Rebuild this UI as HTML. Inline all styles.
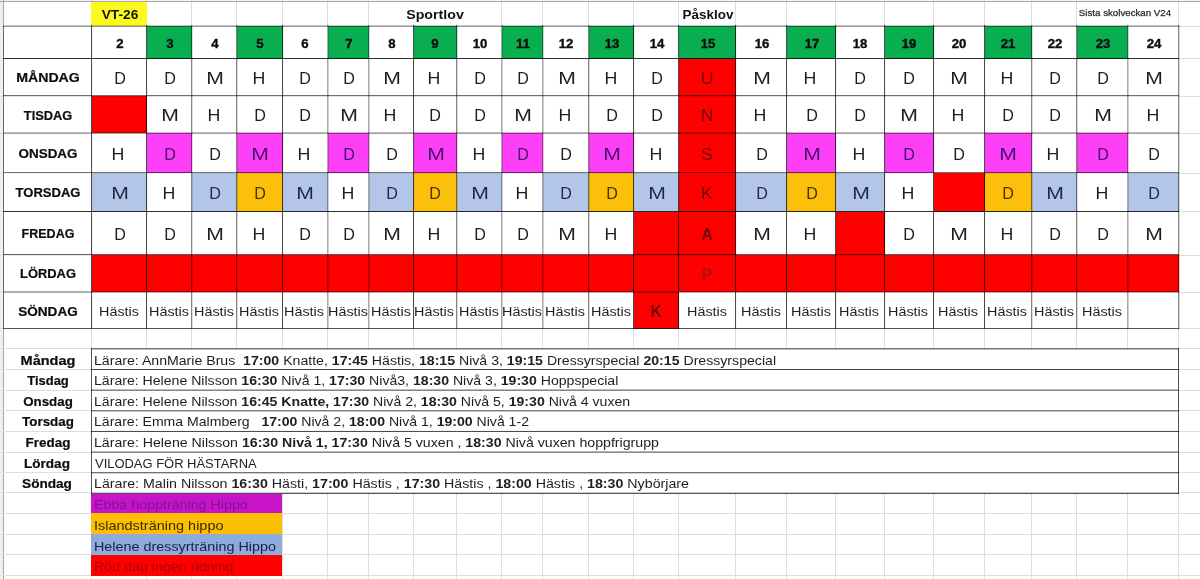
<!DOCTYPE html>
<html lang="sv"><head><meta charset="utf-8"><title>Schema VT-26</title><style>
html,body{margin:0;padding:0;background:#fff}
body{width:1200px;height:579px;overflow:hidden;position:relative;font-family:"Liberation Sans",sans-serif;color:#1c1c1c}
.b{position:absolute}
.x{position:absolute;white-space:pre;line-height:1;display:block}
</style></head><body>
<div class="b" style="left:0px;top:0px;width:1200px;height:1px;background:#f4f4f4;"></div>
<div class="b" style="left:0px;top:0px;width:3px;height:579px;background:#efefef;"></div>
<div class="b" style="left:3px;top:0px;width:1px;height:579px;background:#a8a8a8;"></div>
<div class="b" style="left:91px;top:0px;width:1px;height:579px;background:#dedede;"></div>
<div class="b" style="left:146px;top:0px;width:1px;height:579px;background:#dedede;"></div>
<div class="b" style="left:191px;top:0px;width:1px;height:579px;background:#dedede;"></div>
<div class="b" style="left:236px;top:0px;width:1px;height:579px;background:#dedede;"></div>
<div class="b" style="left:282px;top:0px;width:1px;height:579px;background:#dedede;"></div>
<div class="b" style="left:327px;top:0px;width:1px;height:579px;background:#dedede;"></div>
<div class="b" style="left:368px;top:0px;width:1px;height:579px;background:#dedede;"></div>
<div class="b" style="left:413px;top:0px;width:1px;height:579px;background:#dedede;"></div>
<div class="b" style="left:456px;top:0px;width:1px;height:579px;background:#dedede;"></div>
<div class="b" style="left:501px;top:0px;width:1px;height:579px;background:#dedede;"></div>
<div class="b" style="left:542px;top:0px;width:1px;height:579px;background:#dedede;"></div>
<div class="b" style="left:588px;top:0px;width:1px;height:579px;background:#dedede;"></div>
<div class="b" style="left:633px;top:0px;width:1px;height:579px;background:#dedede;"></div>
<div class="b" style="left:678px;top:0px;width:1px;height:579px;background:#dedede;"></div>
<div class="b" style="left:735px;top:0px;width:1px;height:579px;background:#dedede;"></div>
<div class="b" style="left:786px;top:0px;width:1px;height:579px;background:#dedede;"></div>
<div class="b" style="left:835px;top:0px;width:1px;height:579px;background:#dedede;"></div>
<div class="b" style="left:884px;top:0px;width:1px;height:579px;background:#dedede;"></div>
<div class="b" style="left:933px;top:0px;width:1px;height:579px;background:#dedede;"></div>
<div class="b" style="left:984px;top:0px;width:1px;height:579px;background:#dedede;"></div>
<div class="b" style="left:1031px;top:0px;width:1px;height:579px;background:#dedede;"></div>
<div class="b" style="left:1076px;top:0px;width:1px;height:579px;background:#dedede;"></div>
<div class="b" style="left:1127px;top:0px;width:1px;height:579px;background:#dedede;"></div>
<div class="b" style="left:1178px;top:0px;width:1px;height:579px;background:#dedede;"></div>
<div class="b" style="left:0px;top:1px;width:1200px;height:1px;background:#a8a8a8;"></div>
<div class="b" style="left:0px;top:26px;width:1200px;height:1px;background:#dedede;"></div>
<div class="b" style="left:0px;top:58px;width:1200px;height:1px;background:#dedede;"></div>
<div class="b" style="left:0px;top:96px;width:1200px;height:1px;background:#dedede;"></div>
<div class="b" style="left:0px;top:133px;width:1200px;height:1px;background:#dedede;"></div>
<div class="b" style="left:0px;top:173px;width:1200px;height:1px;background:#dedede;"></div>
<div class="b" style="left:0px;top:211px;width:1200px;height:1px;background:#dedede;"></div>
<div class="b" style="left:0px;top:255px;width:1200px;height:1px;background:#dedede;"></div>
<div class="b" style="left:0px;top:292px;width:1200px;height:1px;background:#dedede;"></div>
<div class="b" style="left:0px;top:328px;width:1200px;height:1px;background:#dedede;"></div>
<div class="b" style="left:0px;top:348px;width:1200px;height:1px;background:#dedede;"></div>
<div class="b" style="left:0px;top:369px;width:1200px;height:1px;background:#dedede;"></div>
<div class="b" style="left:0px;top:390px;width:1200px;height:1px;background:#dedede;"></div>
<div class="b" style="left:0px;top:410px;width:1200px;height:1px;background:#dedede;"></div>
<div class="b" style="left:0px;top:431px;width:1200px;height:1px;background:#dedede;"></div>
<div class="b" style="left:0px;top:452px;width:1200px;height:1px;background:#dedede;"></div>
<div class="b" style="left:0px;top:472px;width:1200px;height:1px;background:#dedede;"></div>
<div class="b" style="left:0px;top:492px;width:1200px;height:1px;background:#dedede;"></div>
<div class="b" style="left:0px;top:513px;width:1200px;height:1px;background:#dedede;"></div>
<div class="b" style="left:0px;top:534px;width:1200px;height:1px;background:#dedede;"></div>
<div class="b" style="left:0px;top:554px;width:1200px;height:1px;background:#dedede;"></div>
<div class="b" style="left:0px;top:575px;width:1200px;height:1px;background:#dedede;"></div>
<div class="b" style="left:369px;top:2px;width:132px;height:23px;background:#fff;"></div>
<div class="b" style="left:1077px;top:2px;width:101px;height:23px;background:#fff;"></div>
<div class="b" style="left:91px;top:2px;width:56px;height:24px;background:#fcf91e;"></div>
<div class="b" style="left:4px;top:26px;width:1175px;height:303px;background:#fff;"></div>
<div class="b" style="left:92px;top:255px;width:55px;height:37px;background:#fe0000;"></div>
<div class="b" style="left:147px;top:26px;width:45px;height:33px;background:#08ae50;"></div>
<div class="b" style="left:147px;top:255px;width:45px;height:37px;background:#fe0000;"></div>
<div class="b" style="left:147px;top:133px;width:45px;height:40px;background:#fd3ff7;"></div>
<div class="b" style="left:192px;top:255px;width:45px;height:37px;background:#fe0000;"></div>
<div class="b" style="left:237px;top:26px;width:46px;height:33px;background:#08ae50;"></div>
<div class="b" style="left:237px;top:255px;width:46px;height:37px;background:#fe0000;"></div>
<div class="b" style="left:237px;top:133px;width:46px;height:40px;background:#fd3ff7;"></div>
<div class="b" style="left:283px;top:255px;width:45px;height:37px;background:#fe0000;"></div>
<div class="b" style="left:328px;top:26px;width:41px;height:33px;background:#08ae50;"></div>
<div class="b" style="left:328px;top:255px;width:41px;height:37px;background:#fe0000;"></div>
<div class="b" style="left:328px;top:133px;width:41px;height:40px;background:#fd3ff7;"></div>
<div class="b" style="left:369px;top:255px;width:45px;height:37px;background:#fe0000;"></div>
<div class="b" style="left:414px;top:26px;width:43px;height:33px;background:#08ae50;"></div>
<div class="b" style="left:414px;top:255px;width:43px;height:37px;background:#fe0000;"></div>
<div class="b" style="left:414px;top:133px;width:43px;height:40px;background:#fd3ff7;"></div>
<div class="b" style="left:457px;top:255px;width:45px;height:37px;background:#fe0000;"></div>
<div class="b" style="left:502px;top:26px;width:41px;height:33px;background:#08ae50;"></div>
<div class="b" style="left:502px;top:255px;width:41px;height:37px;background:#fe0000;"></div>
<div class="b" style="left:502px;top:133px;width:41px;height:40px;background:#fd3ff7;"></div>
<div class="b" style="left:543px;top:255px;width:46px;height:37px;background:#fe0000;"></div>
<div class="b" style="left:589px;top:26px;width:45px;height:33px;background:#08ae50;"></div>
<div class="b" style="left:589px;top:255px;width:45px;height:37px;background:#fe0000;"></div>
<div class="b" style="left:589px;top:133px;width:45px;height:40px;background:#fd3ff7;"></div>
<div class="b" style="left:634px;top:255px;width:45px;height:37px;background:#fe0000;"></div>
<div class="b" style="left:679px;top:26px;width:57px;height:33px;background:#08ae50;"></div>
<div class="b" style="left:679px;top:255px;width:57px;height:37px;background:#fe0000;"></div>
<div class="b" style="left:736px;top:255px;width:51px;height:37px;background:#fe0000;"></div>
<div class="b" style="left:787px;top:26px;width:49px;height:33px;background:#08ae50;"></div>
<div class="b" style="left:787px;top:255px;width:49px;height:37px;background:#fe0000;"></div>
<div class="b" style="left:787px;top:133px;width:49px;height:40px;background:#fd3ff7;"></div>
<div class="b" style="left:836px;top:255px;width:49px;height:37px;background:#fe0000;"></div>
<div class="b" style="left:885px;top:26px;width:49px;height:33px;background:#08ae50;"></div>
<div class="b" style="left:885px;top:255px;width:49px;height:37px;background:#fe0000;"></div>
<div class="b" style="left:885px;top:133px;width:49px;height:40px;background:#fd3ff7;"></div>
<div class="b" style="left:934px;top:255px;width:51px;height:37px;background:#fe0000;"></div>
<div class="b" style="left:985px;top:26px;width:47px;height:33px;background:#08ae50;"></div>
<div class="b" style="left:985px;top:255px;width:47px;height:37px;background:#fe0000;"></div>
<div class="b" style="left:985px;top:133px;width:47px;height:40px;background:#fd3ff7;"></div>
<div class="b" style="left:1032px;top:255px;width:45px;height:37px;background:#fe0000;"></div>
<div class="b" style="left:1077px;top:26px;width:51px;height:33px;background:#08ae50;"></div>
<div class="b" style="left:1077px;top:255px;width:51px;height:37px;background:#fe0000;"></div>
<div class="b" style="left:1077px;top:133px;width:51px;height:40px;background:#fd3ff7;"></div>
<div class="b" style="left:1128px;top:255px;width:51px;height:37px;background:#fe0000;"></div>
<div class="b" style="left:92px;top:96px;width:55px;height:37px;background:#fe0000;"></div>
<div class="b" style="left:679px;top:59px;width:57px;height:37px;background:#fe0000;"></div>
<div class="b" style="left:679px;top:96px;width:57px;height:37px;background:#fe0000;"></div>
<div class="b" style="left:679px;top:133px;width:57px;height:40px;background:#fe0000;"></div>
<div class="b" style="left:679px;top:173px;width:57px;height:39px;background:#fe0000;"></div>
<div class="b" style="left:679px;top:212px;width:57px;height:43px;background:#fe0000;"></div>
<div class="b" style="left:934px;top:173px;width:51px;height:39px;background:#fe0000;"></div>
<div class="b" style="left:634px;top:212px;width:45px;height:43px;background:#fe0000;"></div>
<div class="b" style="left:836px;top:212px;width:49px;height:43px;background:#fe0000;"></div>
<div class="b" style="left:634px;top:292px;width:45px;height:37px;background:#fe0000;"></div>
<div class="b" style="left:92px;top:173px;width:55px;height:39px;background:#b4c6e7;"></div>
<div class="b" style="left:192px;top:173px;width:45px;height:39px;background:#b4c6e7;"></div>
<div class="b" style="left:237px;top:173px;width:46px;height:39px;background:#fdc00a;"></div>
<div class="b" style="left:283px;top:173px;width:45px;height:39px;background:#b4c6e7;"></div>
<div class="b" style="left:369px;top:173px;width:45px;height:39px;background:#b4c6e7;"></div>
<div class="b" style="left:414px;top:173px;width:43px;height:39px;background:#fdc00a;"></div>
<div class="b" style="left:457px;top:173px;width:45px;height:39px;background:#b4c6e7;"></div>
<div class="b" style="left:543px;top:173px;width:46px;height:39px;background:#b4c6e7;"></div>
<div class="b" style="left:589px;top:173px;width:45px;height:39px;background:#fdc00a;"></div>
<div class="b" style="left:634px;top:173px;width:45px;height:39px;background:#b4c6e7;"></div>
<div class="b" style="left:736px;top:173px;width:51px;height:39px;background:#b4c6e7;"></div>
<div class="b" style="left:787px;top:173px;width:49px;height:39px;background:#fdc00a;"></div>
<div class="b" style="left:836px;top:173px;width:49px;height:39px;background:#b4c6e7;"></div>
<div class="b" style="left:985px;top:173px;width:47px;height:39px;background:#fdc00a;"></div>
<div class="b" style="left:1032px;top:173px;width:45px;height:39px;background:#b4c6e7;"></div>
<div class="b" style="left:1128px;top:173px;width:51px;height:39px;background:#b4c6e7;"></div>
<div class="b" style="left:3px;top:25px;width:1px;height:304px;background:rgba(0,0,0,0.37);"></div>
<div class="b" style="left:91px;top:25px;width:1px;height:304px;background:rgba(0,0,0,0.7);"></div>
<div class="b" style="left:92px;top:25px;width:1px;height:304px;background:rgba(0,0,0,0.04);"></div>
<div class="b" style="left:146px;top:25px;width:1px;height:304px;background:rgba(0,0,0,0.7);"></div>
<div class="b" style="left:147px;top:25px;width:1px;height:304px;background:rgba(0,0,0,0.04);"></div>
<div class="b" style="left:191px;top:25px;width:1px;height:304px;background:rgba(0,0,0,0.48);"></div>
<div class="b" style="left:192px;top:25px;width:1px;height:304px;background:rgba(0,0,0,0.15);"></div>
<div class="b" style="left:236px;top:25px;width:1px;height:304px;background:rgba(0,0,0,0.48);"></div>
<div class="b" style="left:237px;top:25px;width:1px;height:304px;background:rgba(0,0,0,0.15);"></div>
<div class="b" style="left:282px;top:25px;width:1px;height:304px;background:rgba(0,0,0,0.7);"></div>
<div class="b" style="left:283px;top:25px;width:1px;height:304px;background:rgba(0,0,0,0.04);"></div>
<div class="b" style="left:327px;top:25px;width:1px;height:304px;background:rgba(0,0,0,0.34);"></div>
<div class="b" style="left:328px;top:25px;width:1px;height:304px;background:rgba(0,0,0,0.18);"></div>
<div class="b" style="left:368px;top:25px;width:1px;height:304px;background:rgba(0,0,0,0.34);"></div>
<div class="b" style="left:369px;top:25px;width:1px;height:304px;background:rgba(0,0,0,0.18);"></div>
<div class="b" style="left:413px;top:25px;width:1px;height:304px;background:rgba(0,0,0,0.7);"></div>
<div class="b" style="left:414px;top:25px;width:1px;height:304px;background:rgba(0,0,0,0.04);"></div>
<div class="b" style="left:456px;top:25px;width:1px;height:304px;background:rgba(0,0,0,0.48);"></div>
<div class="b" style="left:457px;top:25px;width:1px;height:304px;background:rgba(0,0,0,0.15);"></div>
<div class="b" style="left:501px;top:25px;width:1px;height:304px;background:rgba(0,0,0,0.34);"></div>
<div class="b" style="left:502px;top:25px;width:1px;height:304px;background:rgba(0,0,0,0.18);"></div>
<div class="b" style="left:542px;top:25px;width:1px;height:304px;background:rgba(0,0,0,0.34);"></div>
<div class="b" style="left:543px;top:25px;width:1px;height:304px;background:rgba(0,0,0,0.18);"></div>
<div class="b" style="left:588px;top:25px;width:1px;height:304px;background:rgba(0,0,0,0.48);"></div>
<div class="b" style="left:589px;top:25px;width:1px;height:304px;background:rgba(0,0,0,0.15);"></div>
<div class="b" style="left:633px;top:25px;width:1px;height:304px;background:rgba(0,0,0,0.7);"></div>
<div class="b" style="left:634px;top:25px;width:1px;height:304px;background:rgba(0,0,0,0.04);"></div>
<div class="b" style="left:678px;top:25px;width:1px;height:304px;background:rgba(0,0,0,0.7);"></div>
<div class="b" style="left:679px;top:25px;width:1px;height:304px;background:rgba(0,0,0,0.04);"></div>
<div class="b" style="left:735px;top:25px;width:1px;height:304px;background:rgba(0,0,0,0.7);"></div>
<div class="b" style="left:736px;top:25px;width:1px;height:304px;background:rgba(0,0,0,0.04);"></div>
<div class="b" style="left:786px;top:25px;width:1px;height:304px;background:rgba(0,0,0,0.7);"></div>
<div class="b" style="left:787px;top:25px;width:1px;height:304px;background:rgba(0,0,0,0.04);"></div>
<div class="b" style="left:835px;top:25px;width:1px;height:304px;background:rgba(0,0,0,0.7);"></div>
<div class="b" style="left:836px;top:25px;width:1px;height:304px;background:rgba(0,0,0,0.04);"></div>
<div class="b" style="left:884px;top:25px;width:1px;height:304px;background:rgba(0,0,0,0.7);"></div>
<div class="b" style="left:885px;top:25px;width:1px;height:304px;background:rgba(0,0,0,0.04);"></div>
<div class="b" style="left:933px;top:25px;width:1px;height:304px;background:rgba(0,0,0,0.7);"></div>
<div class="b" style="left:934px;top:25px;width:1px;height:304px;background:rgba(0,0,0,0.04);"></div>
<div class="b" style="left:984px;top:25px;width:1px;height:304px;background:rgba(0,0,0,0.7);"></div>
<div class="b" style="left:985px;top:25px;width:1px;height:304px;background:rgba(0,0,0,0.04);"></div>
<div class="b" style="left:1031px;top:25px;width:1px;height:304px;background:rgba(0,0,0,0.48);"></div>
<div class="b" style="left:1032px;top:25px;width:1px;height:304px;background:rgba(0,0,0,0.15);"></div>
<div class="b" style="left:1076px;top:25px;width:1px;height:304px;background:rgba(0,0,0,0.48);"></div>
<div class="b" style="left:1077px;top:25px;width:1px;height:304px;background:rgba(0,0,0,0.15);"></div>
<div class="b" style="left:1127px;top:25px;width:1px;height:304px;background:rgba(0,0,0,0.34);"></div>
<div class="b" style="left:1128px;top:25px;width:1px;height:304px;background:rgba(0,0,0,0.18);"></div>
<div class="b" style="left:1178px;top:25px;width:1px;height:304px;background:rgba(0,0,0,0.48);"></div>
<div class="b" style="left:1179px;top:25px;width:1px;height:304px;background:rgba(0,0,0,0.15);"></div>
<div class="b" style="left:3px;top:25px;width:1176px;height:1px;background:rgba(0,0,0,0.22);"></div>
<div class="b" style="left:3px;top:26px;width:1176px;height:1px;background:rgba(0,0,0,0.4);"></div>
<div class="b" style="left:3px;top:58px;width:1176px;height:1px;background:rgba(0,0,0,0.82);"></div>
<div class="b" style="left:3px;top:95px;width:1176px;height:1px;background:rgba(0,0,0,0.57);"></div>
<div class="b" style="left:3px;top:96px;width:1176px;height:1px;background:rgba(0,0,0,0.12);"></div>
<div class="b" style="left:3px;top:132px;width:1176px;height:1px;background:rgba(0,0,0,0.25);"></div>
<div class="b" style="left:3px;top:133px;width:1176px;height:1px;background:rgba(0,0,0,0.37);"></div>
<div class="b" style="left:3px;top:172px;width:1176px;height:1px;background:rgba(0,0,0,0.55);"></div>
<div class="b" style="left:3px;top:173px;width:1176px;height:1px;background:rgba(0,0,0,0.06);"></div>
<div class="b" style="left:3px;top:211px;width:1176px;height:1px;background:rgba(0,0,0,0.82);"></div>
<div class="b" style="left:3px;top:254px;width:1176px;height:1px;background:rgba(0,0,0,0.63);"></div>
<div class="b" style="left:3px;top:255px;width:1176px;height:1px;background:rgba(0,0,0,0.07);"></div>
<div class="b" style="left:3px;top:291px;width:1176px;height:1px;background:rgba(0,0,0,0.32);"></div>
<div class="b" style="left:3px;top:292px;width:1176px;height:1px;background:rgba(0,0,0,0.32);"></div>
<div class="b" style="left:3px;top:328px;width:1176px;height:1px;background:rgba(0,0,0,0.66);"></div>
<div class="b" style="left:92px;top:349px;width:1086px;height:143px;background:#fff;"></div>
<div class="b" style="left:91px;top:348px;width:1088px;height:1px;background:rgba(0,0,0,0.481);"></div>
<div class="b" style="left:91px;top:349px;width:1088px;height:1px;background:rgba(0,0,0,0.259);"></div>
<div class="b" style="left:91px;top:369px;width:1088px;height:1px;background:rgba(0,0,0,0.74);"></div>
<div class="b" style="left:91px;top:389px;width:1088px;height:1px;background:rgba(0,0,0,0.259);"></div>
<div class="b" style="left:91px;top:390px;width:1088px;height:1px;background:rgba(0,0,0,0.481);"></div>
<div class="b" style="left:91px;top:410px;width:1088px;height:1px;background:rgba(0,0,0,0.518);"></div>
<div class="b" style="left:91px;top:411px;width:1088px;height:1px;background:rgba(0,0,0,0.222);"></div>
<div class="b" style="left:91px;top:430px;width:1088px;height:1px;background:rgba(0,0,0,0.037);"></div>
<div class="b" style="left:91px;top:431px;width:1088px;height:1px;background:rgba(0,0,0,0.703);"></div>
<div class="b" style="left:91px;top:451px;width:1088px;height:1px;background:rgba(0,0,0,0.296);"></div>
<div class="b" style="left:91px;top:452px;width:1088px;height:1px;background:rgba(0,0,0,0.444);"></div>
<div class="b" style="left:91px;top:472px;width:1088px;height:1px;background:rgba(0,0,0,0.555);"></div>
<div class="b" style="left:91px;top:473px;width:1088px;height:1px;background:rgba(0,0,0,0.185);"></div>
<div class="b" style="left:91px;top:492px;width:1088px;height:1px;background:rgba(0,0,0,0.074);"></div>
<div class="b" style="left:91px;top:493px;width:1088px;height:1px;background:rgba(0,0,0,0.666);"></div>
<div class="b" style="left:91px;top:348px;width:1px;height:146px;background:rgba(0,0,0,0.62);"></div>
<div class="b" style="left:1178px;top:348px;width:1px;height:146px;background:rgba(0,0,0,0.62);"></div>
<div class="b" style="left:91px;top:494px;width:191px;height:19px;background:#c814c8;"></div>
<div class="b" style="left:91px;top:513px;width:191px;height:21px;background:#fdc000;"></div>
<div class="b" style="left:91px;top:534px;width:191px;height:21px;background:#8faadc;"></div>
<div class="b" style="left:91px;top:555px;width:191px;height:21px;background:#fe0000;"></div>
<span class="x" id="vt" style="left:119.50px;top:8.00px;font-size:13.5px;font-weight:bold;color:#111;transform:translateX(-50%) scaleX(1.0145);">VT-26</span>
<span class="x" id="sport" style="left:434.82px;top:8.00px;font-size:13.5px;font-weight:bold;color:#111;transform:translateX(-50%) scaleX(1.0528);">Sportlov</span>
<span class="x" id="pask" style="left:707.62px;top:8.00px;font-size:13.5px;font-weight:bold;color:#111;transform:translateX(-50%) scaleX(0.9985);">Påsklov</span>
<span class="x" id="sista" style="left:1124.87px;top:9.00px;font-size:9.0px;color:#2a2a2a;-webkit-text-stroke:0.25px #2a2a2a;transform:translateX(-50%) scaleX(1.0788);">Sista skolveckan V24</span>
<span class="x" id="wk2" style="left:119.60px;top:38.00px;font-size:12.2px;font-weight:bold;color:#0c0c0c;-webkit-text-stroke:0.35px #0c0c0c;transform:translateX(-50%) scaleX(1.0800);">2</span>
<span class="x" id="wk3" style="left:169.72px;top:38.00px;font-size:12.2px;font-weight:bold;color:#0c0c0c;-webkit-text-stroke:0.35px #0c0c0c;transform:translateX(-50%) scaleX(1.0800);">3</span>
<span class="x" id="wk4" style="left:214.97px;top:38.00px;font-size:12.2px;font-weight:bold;color:#0c0c0c;-webkit-text-stroke:0.35px #0c0c0c;transform:translateX(-50%) scaleX(1.0800);">4</span>
<span class="x" id="wk5" style="left:260.10px;top:38.00px;font-size:12.2px;font-weight:bold;color:#0c0c0c;-webkit-text-stroke:0.35px #0c0c0c;transform:translateX(-50%) scaleX(1.0800);">5</span>
<span class="x" id="wk6" style="left:305.35px;top:38.00px;font-size:12.2px;font-weight:bold;color:#0c0c0c;-webkit-text-stroke:0.35px #0c0c0c;transform:translateX(-50%) scaleX(1.0800);">6</span>
<span class="x" id="wk7" style="left:348.73px;top:38.00px;font-size:12.2px;font-weight:bold;color:#0c0c0c;-webkit-text-stroke:0.35px #0c0c0c;transform:translateX(-50%) scaleX(1.0800);">7</span>
<span class="x" id="wk8" style="left:391.60px;top:38.00px;font-size:12.2px;font-weight:bold;color:#0c0c0c;-webkit-text-stroke:0.35px #0c0c0c;transform:translateX(-50%) scaleX(1.0800);">8</span>
<span class="x" id="wk9" style="left:435.48px;top:38.00px;font-size:12.2px;font-weight:bold;color:#0c0c0c;-webkit-text-stroke:0.35px #0c0c0c;transform:translateX(-50%) scaleX(1.0800);">9</span>
<span class="x" id="wk10" style="left:479.73px;top:38.00px;font-size:12.2px;font-weight:bold;color:#0c0c0c;-webkit-text-stroke:0.35px #0c0c0c;transform:translateX(-50%) scaleX(1.0800);">10</span>
<span class="x" id="wk11" style="left:522.98px;top:38.00px;font-size:12.2px;font-weight:bold;color:#0c0c0c;-webkit-text-stroke:0.35px #0c0c0c;transform:translateX(-50%) scaleX(1.0800);">11</span>
<span class="x" id="wk12" style="left:566.48px;top:38.00px;font-size:12.2px;font-weight:bold;color:#0c0c0c;-webkit-text-stroke:0.35px #0c0c0c;transform:translateX(-50%) scaleX(1.0800);">12</span>
<span class="x" id="wk13" style="left:611.85px;top:38.00px;font-size:12.2px;font-weight:bold;color:#0c0c0c;-webkit-text-stroke:0.35px #0c0c0c;transform:translateX(-50%) scaleX(1.0800);">13</span>
<span class="x" id="wk14" style="left:656.73px;top:38.00px;font-size:12.2px;font-weight:bold;color:#0c0c0c;-webkit-text-stroke:0.35px #0c0c0c;transform:translateX(-50%) scaleX(1.0800);">14</span>
<span class="x" id="wk15" style="left:707.60px;top:38.00px;font-size:12.2px;font-weight:bold;color:#0c0c0c;-webkit-text-stroke:0.35px #0c0c0c;transform:translateX(-50%) scaleX(1.0800);">15</span>
<span class="x" id="wk16" style="left:761.60px;top:38.00px;font-size:12.2px;font-weight:bold;color:#0c0c0c;-webkit-text-stroke:0.35px #0c0c0c;transform:translateX(-50%) scaleX(1.0800);">16</span>
<span class="x" id="wk17" style="left:811.60px;top:38.00px;font-size:12.2px;font-weight:bold;color:#0c0c0c;-webkit-text-stroke:0.35px #0c0c0c;transform:translateX(-50%) scaleX(1.0800);">17</span>
<span class="x" id="wk18" style="left:860.48px;top:38.00px;font-size:12.2px;font-weight:bold;color:#0c0c0c;-webkit-text-stroke:0.35px #0c0c0c;transform:translateX(-50%) scaleX(1.0800);">18</span>
<span class="x" id="wk19" style="left:909.35px;top:38.00px;font-size:12.2px;font-weight:bold;color:#0c0c0c;-webkit-text-stroke:0.35px #0c0c0c;transform:translateX(-50%) scaleX(1.0800);">19</span>
<span class="x" id="wk20" style="left:959.35px;top:38.00px;font-size:12.2px;font-weight:bold;color:#0c0c0c;-webkit-text-stroke:0.35px #0c0c0c;transform:translateX(-50%) scaleX(1.0800);">20</span>
<span class="x" id="wk21" style="left:1008.35px;top:38.00px;font-size:12.2px;font-weight:bold;color:#0c0c0c;-webkit-text-stroke:0.35px #0c0c0c;transform:translateX(-50%) scaleX(1.0800);">21</span>
<span class="x" id="wk22" style="left:1054.60px;top:38.00px;font-size:12.2px;font-weight:bold;color:#0c0c0c;-webkit-text-stroke:0.35px #0c0c0c;transform:translateX(-50%) scaleX(1.0800);">22</span>
<span class="x" id="wk23" style="left:1102.82px;top:38.00px;font-size:12.2px;font-weight:bold;color:#0c0c0c;-webkit-text-stroke:0.35px #0c0c0c;transform:translateX(-50%) scaleX(1.0800);">23</span>
<span class="x" id="wk24" style="left:1153.95px;top:38.00px;font-size:12.2px;font-weight:bold;color:#0c0c0c;-webkit-text-stroke:0.35px #0c0c0c;transform:translateX(-50%) scaleX(1.0800);">24</span>
<span class="x" id="day0" style="left:47.50px;top:71.00px;font-size:13.2px;font-weight:bold;color:#0c0c0c;-webkit-text-stroke:0.2px #0c0c0c;transform:translateX(-50%) scaleX(1.0728);">MÅNDAG</span>
<span class="x" id="day1" style="left:48.38px;top:109.00px;font-size:13.2px;font-weight:bold;color:#0c0c0c;-webkit-text-stroke:0.2px #0c0c0c;transform:translateX(-50%) scaleX(0.9697);">TISDAG</span>
<span class="x" id="day2" style="left:48.43px;top:147.00px;font-size:13.2px;font-weight:bold;color:#0c0c0c;-webkit-text-stroke:0.2px #0c0c0c;transform:translateX(-50%) scaleX(1.0184);">ONSDAG</span>
<span class="x" id="day3" style="left:48.44px;top:186.00px;font-size:13.2px;font-weight:bold;color:#0c0c0c;-webkit-text-stroke:0.2px #0c0c0c;transform:translateX(-50%) scaleX(0.9879);">TORSDAG</span>
<span class="x" id="day4" style="left:47.88px;top:227.00px;font-size:13.2px;font-weight:bold;color:#0c0c0c;-webkit-text-stroke:0.2px #0c0c0c;transform:translateX(-50%) scaleX(0.9483);">FREDAG</span>
<span class="x" id="day5" style="left:47.63px;top:267.00px;font-size:13.2px;font-weight:bold;color:#0c0c0c;-webkit-text-stroke:0.2px #0c0c0c;transform:translateX(-50%) scaleX(0.9806);">LÖRDAG</span>
<span class="x" id="day6" style="left:48.43px;top:305.00px;font-size:13.2px;font-weight:bold;color:#0c0c0c;-webkit-text-stroke:0.2px #0c0c0c;transform:translateX(-50%) scaleX(1.0280);">SÖNDAG</span>
<span class="x" id="l1_1" style="left:119.50px;top:71.00px;font-size:16.8px;color:#1e1e1e;transform:translateX(-50%) scaleX(0.9600);">D</span>
<span class="x" id="l1_2" style="left:169.62px;top:71.00px;font-size:16.8px;color:#1e1e1e;transform:translateX(-50%) scaleX(0.9600);">D</span>
<span class="x" id="l1_3" style="left:215.07px;top:71.00px;font-size:16.8px;color:#1e1e1e;transform:translateX(-50%) scaleX(1.2600);">M</span>
<span class="x" id="l1_4" style="left:258.90px;top:71.00px;font-size:16.8px;color:#1e1e1e;transform:translateX(-50%) scaleX(1.0600);">H</span>
<span class="x" id="l1_5" style="left:305.25px;top:71.00px;font-size:16.8px;color:#1e1e1e;transform:translateX(-50%) scaleX(0.9600);">D</span>
<span class="x" id="l1_6" style="left:348.62px;top:71.00px;font-size:16.8px;color:#1e1e1e;transform:translateX(-50%) scaleX(0.9600);">D</span>
<span class="x" id="l1_7" style="left:391.70px;top:71.00px;font-size:16.8px;color:#1e1e1e;transform:translateX(-50%) scaleX(1.2600);">M</span>
<span class="x" id="l1_8" style="left:434.27px;top:71.00px;font-size:16.8px;color:#1e1e1e;transform:translateX(-50%) scaleX(1.0600);">H</span>
<span class="x" id="l1_9" style="left:479.62px;top:71.00px;font-size:16.8px;color:#1e1e1e;transform:translateX(-50%) scaleX(0.9600);">D</span>
<span class="x" id="l1_10" style="left:522.88px;top:71.00px;font-size:16.8px;color:#1e1e1e;transform:translateX(-50%) scaleX(0.9600);">D</span>
<span class="x" id="l1_11" style="left:566.58px;top:71.00px;font-size:16.8px;color:#1e1e1e;transform:translateX(-50%) scaleX(1.2600);">M</span>
<span class="x" id="l1_12" style="left:610.65px;top:71.00px;font-size:16.8px;color:#1e1e1e;transform:translateX(-50%) scaleX(1.0600);">H</span>
<span class="x" id="l1_13" style="left:656.62px;top:71.00px;font-size:16.8px;color:#1e1e1e;transform:translateX(-50%) scaleX(0.9600);">D</span>
<span class="x" id="l1_14" style="left:707.00px;top:71.00px;font-size:16.8px;color:#6a0808;transform:translateX(-50%) scaleX(1.0500);">U</span>
<span class="x" id="l1_15" style="left:761.70px;top:71.00px;font-size:16.8px;color:#1e1e1e;transform:translateX(-50%) scaleX(1.2600);">M</span>
<span class="x" id="l1_16" style="left:810.40px;top:71.00px;font-size:16.8px;color:#1e1e1e;transform:translateX(-50%) scaleX(1.0600);">H</span>
<span class="x" id="l1_17" style="left:860.38px;top:71.00px;font-size:16.8px;color:#1e1e1e;transform:translateX(-50%) scaleX(0.9600);">D</span>
<span class="x" id="l1_18" style="left:909.25px;top:71.00px;font-size:16.8px;color:#1e1e1e;transform:translateX(-50%) scaleX(0.9600);">D</span>
<span class="x" id="l1_19" style="left:959.45px;top:71.00px;font-size:16.8px;color:#1e1e1e;transform:translateX(-50%) scaleX(1.2600);">M</span>
<span class="x" id="l1_20" style="left:1007.15px;top:71.00px;font-size:16.8px;color:#1e1e1e;transform:translateX(-50%) scaleX(1.0600);">H</span>
<span class="x" id="l1_21" style="left:1054.50px;top:71.00px;font-size:16.8px;color:#1e1e1e;transform:translateX(-50%) scaleX(0.9600);">D</span>
<span class="x" id="l1_22" style="left:1102.72px;top:71.00px;font-size:16.8px;color:#1e1e1e;transform:translateX(-50%) scaleX(0.9600);">D</span>
<span class="x" id="l1_23" style="left:1154.05px;top:71.00px;font-size:16.8px;color:#1e1e1e;transform:translateX(-50%) scaleX(1.2600);">M</span>
<span class="x" id="l2_2" style="left:169.82px;top:108.00px;font-size:16.8px;color:#1e1e1e;transform:translateX(-50%) scaleX(1.2600);">M</span>
<span class="x" id="l2_3" style="left:213.78px;top:108.00px;font-size:16.8px;color:#1e1e1e;transform:translateX(-50%) scaleX(1.0600);">H</span>
<span class="x" id="l2_4" style="left:260.00px;top:108.00px;font-size:16.8px;color:#1e1e1e;transform:translateX(-50%) scaleX(0.9600);">D</span>
<span class="x" id="l2_5" style="left:305.25px;top:108.00px;font-size:16.8px;color:#1e1e1e;transform:translateX(-50%) scaleX(0.9600);">D</span>
<span class="x" id="l2_6" style="left:348.82px;top:108.00px;font-size:16.8px;color:#1e1e1e;transform:translateX(-50%) scaleX(1.2600);">M</span>
<span class="x" id="l2_7" style="left:390.40px;top:108.00px;font-size:16.8px;color:#1e1e1e;transform:translateX(-50%) scaleX(1.0600);">H</span>
<span class="x" id="l2_8" style="left:435.38px;top:108.00px;font-size:16.8px;color:#1e1e1e;transform:translateX(-50%) scaleX(0.9600);">D</span>
<span class="x" id="l2_9" style="left:479.62px;top:108.00px;font-size:16.8px;color:#1e1e1e;transform:translateX(-50%) scaleX(0.9600);">D</span>
<span class="x" id="l2_10" style="left:523.08px;top:108.00px;font-size:16.8px;color:#1e1e1e;transform:translateX(-50%) scaleX(1.2600);">M</span>
<span class="x" id="l2_11" style="left:565.27px;top:108.00px;font-size:16.8px;color:#1e1e1e;transform:translateX(-50%) scaleX(1.0600);">H</span>
<span class="x" id="l2_12" style="left:611.75px;top:108.00px;font-size:16.8px;color:#1e1e1e;transform:translateX(-50%) scaleX(0.9600);">D</span>
<span class="x" id="l2_13" style="left:656.62px;top:108.00px;font-size:16.8px;color:#1e1e1e;transform:translateX(-50%) scaleX(0.9600);">D</span>
<span class="x" id="l2_14" style="left:707.00px;top:108.00px;font-size:16.8px;color:#6a0808;transform:translateX(-50%) scaleX(1.0500);">N</span>
<span class="x" id="l2_15" style="left:760.40px;top:108.00px;font-size:16.8px;color:#1e1e1e;transform:translateX(-50%) scaleX(1.0600);">H</span>
<span class="x" id="l2_16" style="left:811.50px;top:108.00px;font-size:16.8px;color:#1e1e1e;transform:translateX(-50%) scaleX(0.9600);">D</span>
<span class="x" id="l2_17" style="left:860.38px;top:108.00px;font-size:16.8px;color:#1e1e1e;transform:translateX(-50%) scaleX(0.9600);">D</span>
<span class="x" id="l2_18" style="left:909.45px;top:108.00px;font-size:16.8px;color:#1e1e1e;transform:translateX(-50%) scaleX(1.2600);">M</span>
<span class="x" id="l2_19" style="left:958.15px;top:108.00px;font-size:16.8px;color:#1e1e1e;transform:translateX(-50%) scaleX(1.0600);">H</span>
<span class="x" id="l2_20" style="left:1008.25px;top:108.00px;font-size:16.8px;color:#1e1e1e;transform:translateX(-50%) scaleX(0.9600);">D</span>
<span class="x" id="l2_21" style="left:1054.50px;top:108.00px;font-size:16.8px;color:#1e1e1e;transform:translateX(-50%) scaleX(0.9600);">D</span>
<span class="x" id="l2_22" style="left:1102.92px;top:108.00px;font-size:16.8px;color:#1e1e1e;transform:translateX(-50%) scaleX(1.2600);">M</span>
<span class="x" id="l2_23" style="left:1152.75px;top:108.00px;font-size:16.8px;color:#1e1e1e;transform:translateX(-50%) scaleX(1.0600);">H</span>
<span class="x" id="l3_1" style="left:118.40px;top:147.00px;font-size:16.8px;color:#1e1e1e;transform:translateX(-50%) scaleX(1.0600);">H</span>
<span class="x" id="l3_2" style="left:169.62px;top:147.00px;font-size:16.8px;color:#45106c;transform:translateX(-50%) scaleX(0.9600);">D</span>
<span class="x" id="l3_3" style="left:214.88px;top:147.00px;font-size:16.8px;color:#1e1e1e;transform:translateX(-50%) scaleX(0.9600);">D</span>
<span class="x" id="l3_4" style="left:260.20px;top:147.00px;font-size:16.8px;color:#45106c;transform:translateX(-50%) scaleX(1.2600);">M</span>
<span class="x" id="l3_5" style="left:304.15px;top:147.00px;font-size:16.8px;color:#1e1e1e;transform:translateX(-50%) scaleX(1.0600);">H</span>
<span class="x" id="l3_6" style="left:348.62px;top:147.00px;font-size:16.8px;color:#45106c;transform:translateX(-50%) scaleX(0.9600);">D</span>
<span class="x" id="l3_7" style="left:391.50px;top:147.00px;font-size:16.8px;color:#1e1e1e;transform:translateX(-50%) scaleX(0.9600);">D</span>
<span class="x" id="l3_8" style="left:435.57px;top:147.00px;font-size:16.8px;color:#45106c;transform:translateX(-50%) scaleX(1.2600);">M</span>
<span class="x" id="l3_9" style="left:478.52px;top:147.00px;font-size:16.8px;color:#1e1e1e;transform:translateX(-50%) scaleX(1.0600);">H</span>
<span class="x" id="l3_10" style="left:522.88px;top:147.00px;font-size:16.8px;color:#45106c;transform:translateX(-50%) scaleX(0.9600);">D</span>
<span class="x" id="l3_11" style="left:566.38px;top:147.00px;font-size:16.8px;color:#1e1e1e;transform:translateX(-50%) scaleX(0.9600);">D</span>
<span class="x" id="l3_12" style="left:611.95px;top:147.00px;font-size:16.8px;color:#45106c;transform:translateX(-50%) scaleX(1.2600);">M</span>
<span class="x" id="l3_13" style="left:655.52px;top:147.00px;font-size:16.8px;color:#1e1e1e;transform:translateX(-50%) scaleX(1.0600);">H</span>
<span class="x" id="l3_14" style="left:707.00px;top:147.00px;font-size:16.8px;color:#6a0808;transform:translateX(-50%) scaleX(1.0500);">S</span>
<span class="x" id="l3_15" style="left:761.50px;top:147.00px;font-size:16.8px;color:#1e1e1e;transform:translateX(-50%) scaleX(0.9600);">D</span>
<span class="x" id="l3_16" style="left:811.70px;top:147.00px;font-size:16.8px;color:#45106c;transform:translateX(-50%) scaleX(1.2600);">M</span>
<span class="x" id="l3_17" style="left:859.27px;top:147.00px;font-size:16.8px;color:#1e1e1e;transform:translateX(-50%) scaleX(1.0600);">H</span>
<span class="x" id="l3_18" style="left:909.25px;top:147.00px;font-size:16.8px;color:#45106c;transform:translateX(-50%) scaleX(0.9600);">D</span>
<span class="x" id="l3_19" style="left:959.25px;top:147.00px;font-size:16.8px;color:#1e1e1e;transform:translateX(-50%) scaleX(0.9600);">D</span>
<span class="x" id="l3_20" style="left:1008.45px;top:147.00px;font-size:16.8px;color:#45106c;transform:translateX(-50%) scaleX(1.2600);">M</span>
<span class="x" id="l3_21" style="left:1053.40px;top:147.00px;font-size:16.8px;color:#1e1e1e;transform:translateX(-50%) scaleX(1.0600);">H</span>
<span class="x" id="l3_22" style="left:1102.72px;top:147.00px;font-size:16.8px;color:#45106c;transform:translateX(-50%) scaleX(0.9600);">D</span>
<span class="x" id="l3_23" style="left:1153.85px;top:147.00px;font-size:16.8px;color:#1e1e1e;transform:translateX(-50%) scaleX(0.9600);">D</span>
<span class="x" id="l4_1" style="left:119.70px;top:186.00px;font-size:16.8px;color:#1d2a4a;transform:translateX(-50%) scaleX(1.2600);">M</span>
<span class="x" id="l4_2" style="left:168.53px;top:186.00px;font-size:16.8px;color:#1e1e1e;transform:translateX(-50%) scaleX(1.0600);">H</span>
<span class="x" id="l4_3" style="left:214.88px;top:186.00px;font-size:16.8px;color:#1d2a4a;transform:translateX(-50%) scaleX(0.9600);">D</span>
<span class="x" id="l4_4" style="left:260.00px;top:186.00px;font-size:16.8px;color:#4a3205;transform:translateX(-50%) scaleX(0.9600);">D</span>
<span class="x" id="l4_5" style="left:305.45px;top:186.00px;font-size:16.8px;color:#1d2a4a;transform:translateX(-50%) scaleX(1.2600);">M</span>
<span class="x" id="l4_6" style="left:347.52px;top:186.00px;font-size:16.8px;color:#1e1e1e;transform:translateX(-50%) scaleX(1.0600);">H</span>
<span class="x" id="l4_7" style="left:391.50px;top:186.00px;font-size:16.8px;color:#1d2a4a;transform:translateX(-50%) scaleX(0.9600);">D</span>
<span class="x" id="l4_8" style="left:435.38px;top:186.00px;font-size:16.8px;color:#4a3205;transform:translateX(-50%) scaleX(0.9600);">D</span>
<span class="x" id="l4_9" style="left:479.82px;top:186.00px;font-size:16.8px;color:#1d2a4a;transform:translateX(-50%) scaleX(1.2600);">M</span>
<span class="x" id="l4_10" style="left:521.77px;top:186.00px;font-size:16.8px;color:#1e1e1e;transform:translateX(-50%) scaleX(1.0600);">H</span>
<span class="x" id="l4_11" style="left:566.38px;top:186.00px;font-size:16.8px;color:#1d2a4a;transform:translateX(-50%) scaleX(0.9600);">D</span>
<span class="x" id="l4_12" style="left:611.75px;top:186.00px;font-size:16.8px;color:#4a3205;transform:translateX(-50%) scaleX(0.9600);">D</span>
<span class="x" id="l4_13" style="left:656.83px;top:186.00px;font-size:16.8px;color:#1d2a4a;transform:translateX(-50%) scaleX(1.2600);">M</span>
<span class="x" id="l4_14" style="left:707.00px;top:186.00px;font-size:16.8px;color:#6a0808;transform:translateX(-50%) scaleX(1.0500);">K</span>
<span class="x" id="l4_15" style="left:761.50px;top:186.00px;font-size:16.8px;color:#1d2a4a;transform:translateX(-50%) scaleX(0.9600);">D</span>
<span class="x" id="l4_16" style="left:811.50px;top:186.00px;font-size:16.8px;color:#4a3205;transform:translateX(-50%) scaleX(0.9600);">D</span>
<span class="x" id="l4_17" style="left:860.58px;top:186.00px;font-size:16.8px;color:#1d2a4a;transform:translateX(-50%) scaleX(1.2600);">M</span>
<span class="x" id="l4_18" style="left:908.15px;top:186.00px;font-size:16.8px;color:#1e1e1e;transform:translateX(-50%) scaleX(1.0600);">H</span>
<span class="x" id="l4_20" style="left:1008.25px;top:186.00px;font-size:16.8px;color:#4a3205;transform:translateX(-50%) scaleX(0.9600);">D</span>
<span class="x" id="l4_21" style="left:1054.70px;top:186.00px;font-size:16.8px;color:#1d2a4a;transform:translateX(-50%) scaleX(1.2600);">M</span>
<span class="x" id="l4_22" style="left:1101.62px;top:186.00px;font-size:16.8px;color:#1e1e1e;transform:translateX(-50%) scaleX(1.0600);">H</span>
<span class="x" id="l4_23" style="left:1153.85px;top:186.00px;font-size:16.8px;color:#1d2a4a;transform:translateX(-50%) scaleX(0.9600);">D</span>
<span class="x" id="l5_1" style="left:119.50px;top:227.00px;font-size:16.8px;color:#1e1e1e;transform:translateX(-50%) scaleX(0.9600);">D</span>
<span class="x" id="l5_2" style="left:169.62px;top:227.00px;font-size:16.8px;color:#1e1e1e;transform:translateX(-50%) scaleX(0.9600);">D</span>
<span class="x" id="l5_3" style="left:215.07px;top:227.00px;font-size:16.8px;color:#1e1e1e;transform:translateX(-50%) scaleX(1.2600);">M</span>
<span class="x" id="l5_4" style="left:258.90px;top:227.00px;font-size:16.8px;color:#1e1e1e;transform:translateX(-50%) scaleX(1.0600);">H</span>
<span class="x" id="l5_5" style="left:305.25px;top:227.00px;font-size:16.8px;color:#1e1e1e;transform:translateX(-50%) scaleX(0.9600);">D</span>
<span class="x" id="l5_6" style="left:348.62px;top:227.00px;font-size:16.8px;color:#1e1e1e;transform:translateX(-50%) scaleX(0.9600);">D</span>
<span class="x" id="l5_7" style="left:391.70px;top:227.00px;font-size:16.8px;color:#1e1e1e;transform:translateX(-50%) scaleX(1.2600);">M</span>
<span class="x" id="l5_8" style="left:434.27px;top:227.00px;font-size:16.8px;color:#1e1e1e;transform:translateX(-50%) scaleX(1.0600);">H</span>
<span class="x" id="l5_9" style="left:479.62px;top:227.00px;font-size:16.8px;color:#1e1e1e;transform:translateX(-50%) scaleX(0.9600);">D</span>
<span class="x" id="l5_10" style="left:522.88px;top:227.00px;font-size:16.8px;color:#1e1e1e;transform:translateX(-50%) scaleX(0.9600);">D</span>
<span class="x" id="l5_11" style="left:566.58px;top:227.00px;font-size:16.8px;color:#1e1e1e;transform:translateX(-50%) scaleX(1.2600);">M</span>
<span class="x" id="l5_12" style="left:610.65px;top:227.00px;font-size:16.8px;color:#1e1e1e;transform:translateX(-50%) scaleX(1.0600);">H</span>
<span class="x" id="l5_14" style="left:707.00px;top:227.00px;font-size:16.8px;font-weight:bold;color:#6a0808;transform:translateX(-50%) scaleX(0.9200);">A</span>
<span class="x" id="l5_15" style="left:761.70px;top:227.00px;font-size:16.8px;color:#1e1e1e;transform:translateX(-50%) scaleX(1.2600);">M</span>
<span class="x" id="l5_16" style="left:810.40px;top:227.00px;font-size:16.8px;color:#1e1e1e;transform:translateX(-50%) scaleX(1.0600);">H</span>
<span class="x" id="l5_18" style="left:909.25px;top:227.00px;font-size:16.8px;color:#1e1e1e;transform:translateX(-50%) scaleX(0.9600);">D</span>
<span class="x" id="l5_19" style="left:959.45px;top:227.00px;font-size:16.8px;color:#1e1e1e;transform:translateX(-50%) scaleX(1.2600);">M</span>
<span class="x" id="l5_20" style="left:1007.15px;top:227.00px;font-size:16.8px;color:#1e1e1e;transform:translateX(-50%) scaleX(1.0600);">H</span>
<span class="x" id="l5_21" style="left:1054.50px;top:227.00px;font-size:16.8px;color:#1e1e1e;transform:translateX(-50%) scaleX(0.9600);">D</span>
<span class="x" id="l5_22" style="left:1102.72px;top:227.00px;font-size:16.8px;color:#1e1e1e;transform:translateX(-50%) scaleX(0.9600);">D</span>
<span class="x" id="l5_23" style="left:1154.05px;top:227.00px;font-size:16.8px;color:#1e1e1e;transform:translateX(-50%) scaleX(1.2600);">M</span>
<span class="x" id="l6_14" style="left:707.00px;top:267.00px;font-size:16.8px;font-weight:bold;color:#b01010;transform:translateX(-50%) scaleX(0.9200);">P</span>
<span class="x" id="h1" style="left:118.50px;top:305.00px;font-size:13.2px;color:#1e1e1e;transform:translateX(-50%) scaleX(1.0900);">Hästis</span>
<span class="x" id="h2" style="left:168.62px;top:305.00px;font-size:13.2px;color:#1e1e1e;transform:translateX(-50%) scaleX(1.0900);">Hästis</span>
<span class="x" id="h3" style="left:213.88px;top:305.00px;font-size:13.2px;color:#1e1e1e;transform:translateX(-50%) scaleX(1.0900);">Hästis</span>
<span class="x" id="h4" style="left:259.00px;top:305.00px;font-size:13.2px;color:#1e1e1e;transform:translateX(-50%) scaleX(1.0900);">Hästis</span>
<span class="x" id="h5" style="left:304.25px;top:305.00px;font-size:13.2px;color:#1e1e1e;transform:translateX(-50%) scaleX(1.0900);">Hästis</span>
<span class="x" id="h6" style="left:347.62px;top:305.00px;font-size:13.2px;color:#1e1e1e;transform:translateX(-50%) scaleX(1.0900);">Hästis</span>
<span class="x" id="h7" style="left:390.50px;top:305.00px;font-size:13.2px;color:#1e1e1e;transform:translateX(-50%) scaleX(1.0900);">Hästis</span>
<span class="x" id="h8" style="left:434.38px;top:305.00px;font-size:13.2px;color:#1e1e1e;transform:translateX(-50%) scaleX(1.0900);">Hästis</span>
<span class="x" id="h9" style="left:478.62px;top:305.00px;font-size:13.2px;color:#1e1e1e;transform:translateX(-50%) scaleX(1.0900);">Hästis</span>
<span class="x" id="h10" style="left:521.88px;top:305.00px;font-size:13.2px;color:#1e1e1e;transform:translateX(-50%) scaleX(1.0900);">Hästis</span>
<span class="x" id="h11" style="left:565.38px;top:305.00px;font-size:13.2px;color:#1e1e1e;transform:translateX(-50%) scaleX(1.0900);">Hästis</span>
<span class="x" id="h12" style="left:610.75px;top:305.00px;font-size:13.2px;color:#1e1e1e;transform:translateX(-50%) scaleX(1.0900);">Hästis</span>
<span class="x" id="l7_13" style="left:656.12px;top:304.00px;font-size:16.8px;font-weight:bold;color:#6a0808;transform:translateX(-50%) scaleX(0.9200);">K</span>
<span class="x" id="h14" style="left:706.50px;top:305.00px;font-size:13.2px;color:#1e1e1e;transform:translateX(-50%) scaleX(1.0900);">Hästis</span>
<span class="x" id="h15" style="left:760.50px;top:305.00px;font-size:13.2px;color:#1e1e1e;transform:translateX(-50%) scaleX(1.0900);">Hästis</span>
<span class="x" id="h16" style="left:810.50px;top:305.00px;font-size:13.2px;color:#1e1e1e;transform:translateX(-50%) scaleX(1.0900);">Hästis</span>
<span class="x" id="h17" style="left:859.38px;top:305.00px;font-size:13.2px;color:#1e1e1e;transform:translateX(-50%) scaleX(1.0900);">Hästis</span>
<span class="x" id="h18" style="left:908.25px;top:305.00px;font-size:13.2px;color:#1e1e1e;transform:translateX(-50%) scaleX(1.0900);">Hästis</span>
<span class="x" id="h19" style="left:958.25px;top:305.00px;font-size:13.2px;color:#1e1e1e;transform:translateX(-50%) scaleX(1.0900);">Hästis</span>
<span class="x" id="h20" style="left:1007.25px;top:305.00px;font-size:13.2px;color:#1e1e1e;transform:translateX(-50%) scaleX(1.0900);">Hästis</span>
<span class="x" id="h21" style="left:1053.50px;top:305.00px;font-size:13.2px;color:#1e1e1e;transform:translateX(-50%) scaleX(1.0900);">Hästis</span>
<span class="x" id="h22" style="left:1101.72px;top:305.00px;font-size:13.2px;color:#1e1e1e;transform:translateX(-50%) scaleX(1.0900);">Hästis</span>
<span class="x" id="d2_0" style="left:47.81px;top:354.00px;font-size:13.2px;font-weight:bold;color:#0c0c0c;-webkit-text-stroke:0.2px #0c0c0c;transform:translateX(-50%) scaleX(1.1024);">Måndag</span>
<span class="x" id="ln0" style="left:94.00px;top:354.00px;font-size:13.2px;color:#1e1e1e;transform-origin:0 0;transform:scaleX(1.0706);">Lärare: AnnMarie Brus  <b>17:00</b> Knatte, <b>17:45</b> Hästis, <b>18:15</b> Nivå 3, <b>19:15</b> Dressyrspecial <b>20:15</b> Dressyrspecial</span>
<span class="x" id="d2_1" style="left:48.38px;top:374.00px;font-size:13.2px;font-weight:bold;color:#0c0c0c;-webkit-text-stroke:0.2px #0c0c0c;transform:translateX(-50%) scaleX(0.9826);">Tisdag</span>
<span class="x" id="ln1" style="left:94.00px;top:374.00px;font-size:13.2px;color:#1e1e1e;transform-origin:0 0;transform:scaleX(1.0690);">Lärare: Helene Nilsson <b>16:30</b> Nivå 1, <b>17:30</b> Nivå3, <b>18:30</b> Nivå 3, <b>19:30</b> Hoppspecial</span>
<span class="x" id="d2_2" style="left:47.69px;top:395.00px;font-size:13.2px;font-weight:bold;color:#0c0c0c;-webkit-text-stroke:0.2px #0c0c0c;transform:translateX(-50%) scaleX(1.0086);">Onsdag</span>
<span class="x" id="ln2" style="left:94.00px;top:395.00px;font-size:13.2px;color:#1e1e1e;transform-origin:0 0;transform:scaleX(1.0693);">Lärare: Helene Nilsson <b>16:45 Knatte, 17:30</b> Nivå 2, <b>18:30</b> Nivå 5, <b>19:30</b> Nivå 4 vuxen</span>
<span class="x" id="d2_3" style="left:48.37px;top:415.00px;font-size:13.2px;font-weight:bold;color:#0c0c0c;-webkit-text-stroke:0.2px #0c0c0c;transform:translateX(-50%) scaleX(1.0152);">Torsdag</span>
<span class="x" id="ln3" style="left:94.00px;top:415.00px;font-size:13.2px;color:#1e1e1e;transform-origin:0 0;transform:scaleX(1.0672);">Lärare: Emma Malmberg   <b>17:00</b> Nivå 2, <b>18:00</b> Nivå 1, <b>19:00</b> Nivå 1-2</span>
<span class="x" id="d2_4" style="left:47.50px;top:436.00px;font-size:13.2px;font-weight:bold;color:#0c0c0c;-webkit-text-stroke:0.2px #0c0c0c;transform:translateX(-50%) scaleX(1.0201);">Fredag</span>
<span class="x" id="ln4" style="left:94.00px;top:436.00px;font-size:13.2px;color:#1e1e1e;transform-origin:0 0;transform:scaleX(1.0732);">Lärare: Helene Nilsson <b>16:30 Nivå 1, 17:30</b> Nivå 5 vuxen , <b>18:30</b> Nivå vuxen hoppfrigrupp</span>
<span class="x" id="d2_5" style="left:47.37px;top:457.00px;font-size:13.2px;font-weight:bold;color:#0c0c0c;-webkit-text-stroke:0.2px #0c0c0c;transform:translateX(-50%) scaleX(1.0253);">Lördag</span>
<span class="x" id="ln5" style="left:95.00px;top:457.00px;font-size:13.2px;color:#1e1e1e;transform-origin:0 0;transform:scaleX(0.9821);">VILODAG FÖR HÄSTARNA</span>
<span class="x" id="d2_6" style="left:47.32px;top:477.00px;font-size:13.2px;font-weight:bold;color:#0c0c0c;-webkit-text-stroke:0.2px #0c0c0c;transform:translateX(-50%) scaleX(1.0310);">Söndag</span>
<span class="x" id="ln6" style="left:94.00px;top:477.00px;font-size:13.2px;color:#1e1e1e;transform-origin:0 0;transform:scaleX(1.0779);">Lärare: Malin Nilsson <b>16:30</b> Hästi, <b>17:00</b> Hästis , <b>17:30</b> Hästis , <b>18:00</b> Hästis , <b>18:30</b> Nybörjare</span>
<span class="x" id="lg0" style="left:94.00px;top:498.00px;font-size:13.4px;color:#7d1693;transform-origin:0 0;transform:scaleX(1.0644);">Ebba hoppträning Hippo</span>
<span class="x" id="lg1" style="left:94.00px;top:519.00px;font-size:13.4px;color:#3a2800;transform-origin:0 0;transform:scaleX(1.0806);">Islandsträning hippo</span>
<span class="x" id="lg2" style="left:94.00px;top:540.00px;font-size:13.4px;color:#16233f;transform-origin:0 0;transform:scaleX(1.0717);">Helene dressyrträning Hippo</span>
<span class="x" id="lg3" style="left:94.00px;top:560.00px;font-size:13.4px;color:#b00505;transform-origin:0 0;transform:scaleX(1.0649);">Röd dag ingen ridning</span>
</body></html>
